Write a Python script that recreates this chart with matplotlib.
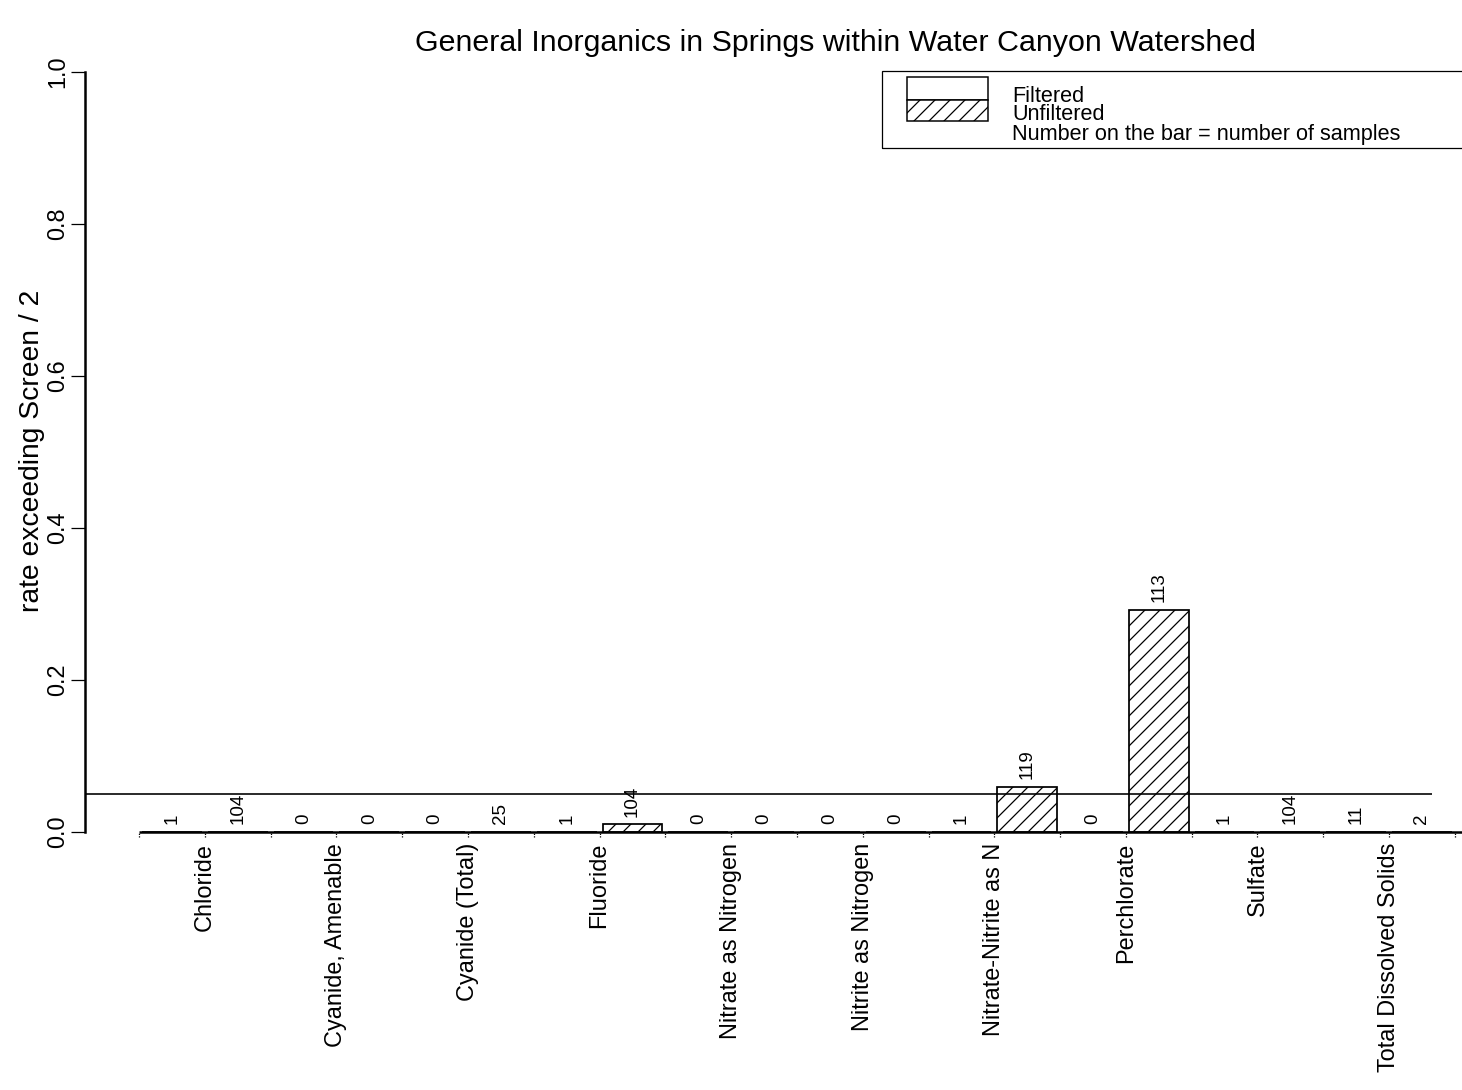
import matplotlib
matplotlib.use("Agg")
import matplotlib.pyplot as plt
from matplotlib.patches import Rectangle

plt.rcParams["font.family"] = ["Liberation Sans", "DejaVu Sans"]
plt.rcParams["hatch.linewidth"] = 1.0

# ---- data ----
analytes = ["Chloride", "Cyanide, Amenable", "Cyanide (Total)", "Fluoride",
            "Nitrate as Nitrogen", "Nitrite as Nitrogen", "Nitrate-Nitrite as N",
            "Perchlorate", "Sulfate", "Total Dissolved Solids"]
filtered_rate = [0, 0, 0, 0, 0, 0, 0, 0, 0, 0]
unfiltered_rate = [0, 0, 0, 1 / 104, 0, 0, 7 / 119, 33 / 113, 0, 0]
filtered_n = [1, 0, 0, 1, 0, 0, 1, 0, 1, 11]
unfiltered_n = [104, 0, 25, 104, 0, 0, 119, 113, 104, 2]
screen_line = 0.05
yticks = [0.0, 0.2, 0.4, 0.6, 0.8, 1.0]

W, H, DPI = 1462, 1090, 90
fig = plt.figure(figsize=(W / DPI, H / DPI), dpi=DPI)


def fx(px):
    return px / W


def fy(py):
    return 1 - py / H


ax = fig.add_axes([fx(85), fy(831.7), fx(1462) - fx(85), fy(72) - fy(831.7)])
ax.set_ylim(0, 1)
ax.set_xlim(-0.854, 22.17)
ax.patch.set_alpha(0)

# bar layout: width 1, space 0.1 between every bar, two bars per analyte
space = 0.1
n = len(analytes)
centers_f = [space + 0.5 + (1 + space) * (2 * i) for i in range(n)]
centers_u = [space + 0.5 + (1 + space) * (2 * i + 1) for i in range(n)]
group_centers = [(a + b) / 2 for a, b in zip(centers_f, centers_u)]

ax.bar(centers_f, filtered_rate, width=1, facecolor="none", edgecolor="black",
       linewidth=1.4)
ax.bar(centers_u, unfiltered_rate, width=1, facecolor="white", edgecolor="black",
       linewidth=1.4, hatch="//")

# counts above each bar
for c, h, k in zip(centers_f, filtered_rate, filtered_n):
    ax.text(c, h + 0.01, str(k), rotation=90, ha="center", va="bottom",
            fontsize=15)
for c, h, k in zip(centers_u, unfiltered_rate, unfiltered_n):
    ax.text(c, h + 0.01, str(k), rotation=90, ha="center", va="bottom",
            fontsize=15)

# screening reference line
ax.hlines(screen_line, -0.854, 21.67, colors="black", linewidth=1.3)

# baseline and small dotted ticks between bars
ax.hlines(0, 0.05, 22.17, colors="black", linewidth=2.0, clip_on=False)
tick_pos = [0.05 + (1 + space) * k for k in range(2 * n + 1)]
ax.vlines(tick_pos, -0.007, 0, colors="black", linewidth=1.0,
          linestyles=(0, (1, 1)), clip_on=False)

# analyte names
for g, name in zip(group_centers, analytes):
    ax.text(g, -0.0148, name, rotation=90, ha="center", va="top", fontsize=18.8)

# axes styling
for s in ("top", "right", "bottom"):
    ax.spines[s].set_visible(False)
ax.spines["left"].set_linewidth(2.0)
ax.spines["left"].set_bounds(0, 1)
ax.set_xticks([])
ax.set_yticks(yticks)
ax.set_yticklabels([f"{v:.1f}" for v in yticks], rotation=90, va="center",
                   fontsize=18.8)
ax.tick_params(axis="y", direction="out", length=11, width=1.0, pad=2)

fig.text(fx(835), fy(43), "General Inorganics in Springs within Water Canyon Watershed",
         ha="center", va="center", fontsize=24.3)
fig.text(fx(32), fy(451), "rate exceeding Screen / 2", rotation=90,
         ha="center", va="center", fontsize=22.6)

# legend
fig.patches.append(Rectangle((fx(882), fy(148)), fx(1480) - fx(882), fy(71) - fy(148),
                             transform=fig.transFigure, fill=False,
                             edgecolor="black", linewidth=1.0))
fig.patches.append(Rectangle((fx(907), fy(100)), fx(988) - fx(907), fy(77) - fy(100),
                             transform=fig.transFigure, facecolor="white",
                             edgecolor="black", linewidth=1.2))
fig.patches.append(Rectangle((fx(907), fy(121)), fx(988) - fx(907), fy(100) - fy(121),
                             transform=fig.transFigure, facecolor="white",
                             edgecolor="black", linewidth=1.2, hatch="//"))
for ty, label in zip([96, 115, 134], ["Filtered", "Unfiltered",
                                      "Number on the bar = number of samples"]):
    fig.text(fx(1012), fy(ty), label, ha="left", va="center", fontsize=17.3)

fig.savefig("out.png", dpi=DPI)
